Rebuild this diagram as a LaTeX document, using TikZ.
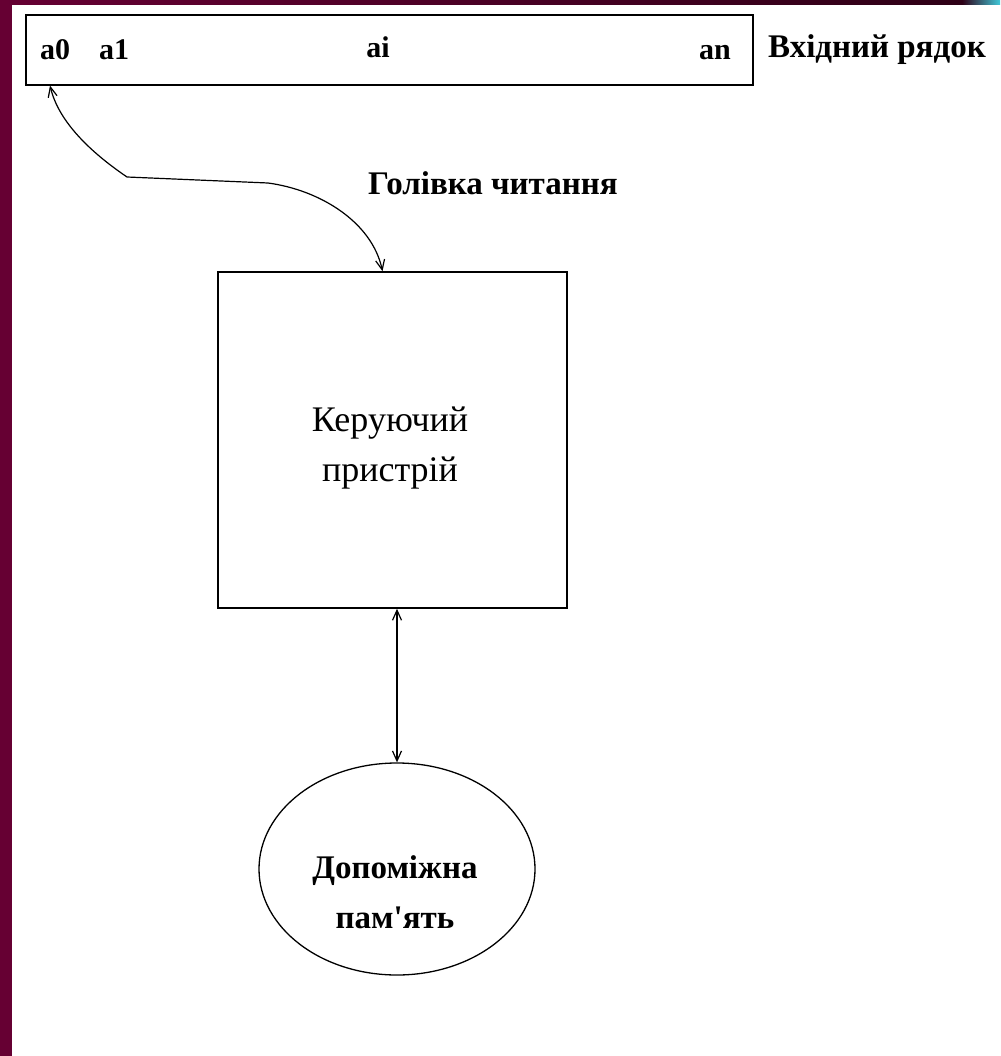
\documentclass[tikz,border=0pt]{standalone}
\usepackage{fontspec}
\setmainfont{Liberation Serif}
\usetikzlibrary{arrows.meta,shapes.geometric}
\definecolor{maroon}{HTML}{660033}
\definecolor{darkmaroon}{HTML}{2E0016}
\definecolor{cornercyan}{HTML}{40C8D8}
\newcommand{\straightapos}{{\XeTeXglyph\XeTeXcharglyph"0027\relax}}
\tikzset{
  boxline/.style={draw=black, line width=1.6pt},
  cell/.style={inner sep=0pt, anchor=base, font=\fontsize{30}{32}\selectfont\bfseries},
  caption/.style={inner sep=0pt, font=\fontsize{33}{36}\selectfont\bfseries},
  inner/.style={inner sep=0pt, align=center},
  conn/.style={line width=1.2pt, {Straight Barb[length=10pt,width=9pt]}-{Straight Barb[length=10pt,width=9pt]}},
}
\begin{document}
\begin{tikzpicture}[x=1pt,y=-1pt]
\useasboundingbox (0,0) rectangle (1000,1056);
\fill[white] (0,0) rectangle (1000,1056);
\fill[maroon] (0,0) rectangle (12,1056);
\shade[left color=maroon, right color=darkmaroon] (0,0) rectangle (962,5);
\shade[left color=darkmaroon, right color=cornercyan] (962,0) rectangle (1000,5);

% input tape
\node[boxline, minimum width=727pt, minimum height=70pt, inner sep=0pt, anchor=north west] (tape) at (25,14) {};
\node[cell] (a0) at (55,60) {a0};
\node[cell] (a1) at (114,60) {a1};
\node[cell] (ai) at (378,58) {ai};
\node[cell] (an) at (715,60) {an};
\node[caption] (tapelbl) at (877,50) {Вхідний рядок};

% control unit
\node[boxline, minimum width=349pt, minimum height=336pt, inner sep=0pt] (ctrl) at (392.5,440) {};
\node[inner, font=\fontsize{36}{50}\selectfont] (ctrltxt) at (390,448) {Керуючий\\пристрій};

% auxiliary memory
\node[ellipse, draw=black, line width=1.3pt, minimum width=276pt, minimum height=212pt, inner sep=0pt] (mem) at (397,869) {};
\node[inner, font=\fontsize{33}{50}\selectfont\bfseries] (memtxt) at (395,892) {Допоміжна\\пам\straightapos ять};

% read head
\node[caption] (headlbl) at (493,183) {Голівка читання};
\coordinate (hstart) at ([xshift=-5pt]a0.south |- tape.south);
\coordinate (hend) at ([xshift=-10pt]ctrl.north);
\draw[conn] (hstart) .. controls (57,115) and (80,145) .. (127,177) -- (268,183) .. controls (320,190) and (372,222) .. (hend);

% memory link
\draw[conn] (mem.north) -- (mem.north |- ctrl.south);
\end{tikzpicture}
\end{document}
